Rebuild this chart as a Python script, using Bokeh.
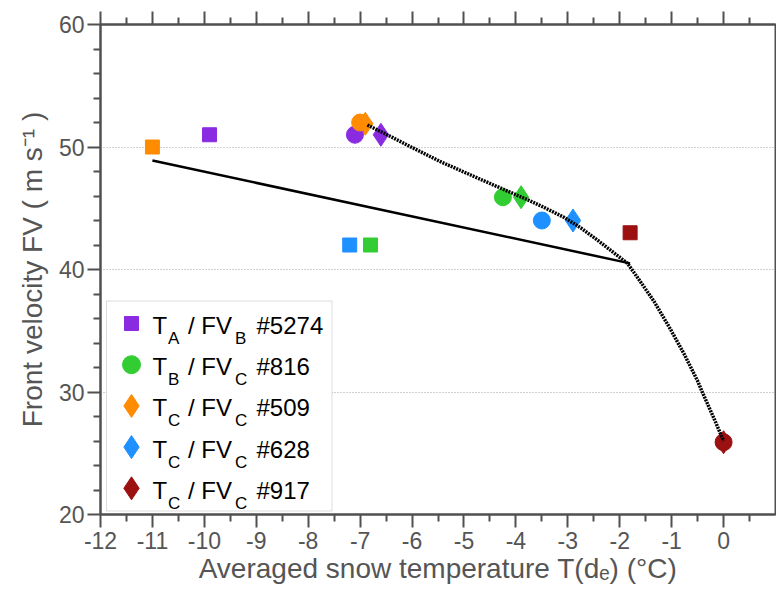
from bokeh.plotting import figure
from bokeh.models import Range1d, LinearAxis, FixedTicker, Label, BoxAnnotation, CustomJSTickFormatter, ColumnDataSource
from bokeh.embed import file_html
from bokeh.resources import INLINE

# ---------------- data ----------------
series_names = ["#5274", "#816", "#509", "#628", "#917"]
series_colors = ["#8a2be2", "#32cd32", "#ff8c00", "#1e90ff", "#9b1111"]

square_x = [-9.9, -6.8, -11.0, -7.2, -1.8]
square_y = [51.0, 42.0, 50.0, 42.0, 43.0]
circle_x = [-7.1, -4.25, -7.0, -3.5, 0.0]
circle_y = [51.0, 45.9, 52.0, 44.0, 25.9]
diamond_x = [-6.6, -3.9, -6.9, -2.9, 0.0]
diamond_y = [51.0, 45.9, 51.9, 44.0, 25.9]

fit_x = [-11.0, -1.8]
fit_y = [48.9, 40.5]

curve_x = [-6.86, -6.41, -6.09, -5.45, -4.81, -4.16, -3.78, -3.52, -3.07, -2.75, -2.43,
           -1.85, -1.60, -1.34, -1.02, -0.76, -0.50, -0.41, -0.18, 0.0]
curve_y = [51.8, 50.85, 50.15, 48.8, 47.6, 46.4, 45.7, 45.2, 44.25, 43.4, 42.4,
           40.5, 39.0, 37.4, 35.1, 33.1, 30.9, 30.0, 27.8, 26.0]

x_major = list(range(-12, 1))
x_minor = [v + 0.5 for v in range(-12, 1)]
y_major = [20, 30, 40, 50, 60]
y_minor = [v for v in range(20, 61, 2) if v % 10 != 0]
grid_y = [30, 40, 50]

leg_sub1 = ["A", "B", "C", "C", "C"]
leg_sub2 = ["B", "C", "C", "C", "C"]
leg_markers = ["square", "circle", "diamond", "diamond", "diamond"]

# ---------------- layout ----------------
X_MIN, X_MAX, Y_MIN, Y_MAX = -12, 1, 20, 60
FL, FR, FT, FB = 100, 775, 24, 514
W, H = 776, 591

def px_x(px):
    return X_MIN + (px - FL) * (X_MAX - X_MIN) / (FR - FL)

def px_y(py):
    return Y_MAX - (py - FT) * (Y_MAX - Y_MIN) / (FB - FT)

FONT = "Liberation Sans"
AX = "#505050"
TXT = "#555555"

p = figure(width=W, height=H, x_range=Range1d(X_MIN, X_MAX), y_range=Range1d(Y_MIN, Y_MAX),
           output_backend="svg", toolbar_location=None,
           min_border_left=FL, min_border_right=W - FR, min_border_top=FT, min_border_bottom=H - FB)
p.background_fill_color = "white"
p.border_fill_color = "white"
p.outline_line_color = AX
p.outline_line_width = 2

def style_axis(ax):
    ax.axis_line_color = AX
    ax.axis_line_width = 2
    ax.major_tick_line_color = AX
    ax.minor_tick_line_color = AX
    ax.major_tick_line_width = 2
    ax.minor_tick_line_width = 2
    ax.major_tick_out = 13
    ax.major_tick_in = 0
    ax.minor_tick_out = 7
    ax.minor_tick_in = 0
    ax.major_label_text_font = FONT
    ax.major_label_text_font_size = "23px"
    ax.major_label_text_color = TXT
    ax.axis_label_text_font = FONT
    ax.axis_label_text_font_size = "28px"
    ax.axis_label_text_color = TXT
    ax.axis_label_text_font_style = "normal"

xt = FixedTicker(ticks=x_major, minor_ticks=x_minor)
yt = FixedTicker(ticks=y_major, minor_ticks=y_minor)

xa = p.xaxis[0]
xa.ticker = xt
xa.major_label_overrides = {v: str(v) for v in x_major}
xa.axis_label = "Averaged snow temperature T(d\u2091) (\u00b0C)"
style_axis(xa)
xa.major_label_standoff = 4
xa.axis_label_standoff = 1

ya = p.yaxis[0]
ya.ticker = yt
ya.axis_label = "Front velocity FV ( m s\u207b\u00b9 )"
style_axis(ya)
ya.major_label_standoff = 3
ya.axis_label_standoff = 8

top = LinearAxis(ticker=FixedTicker(ticks=x_major, minor_ticks=x_minor),
                 formatter=CustomJSTickFormatter(code="return ''"))
style_axis(top)
top.major_label_standoff = 0
p.add_layout(top, "above")

p.xgrid.visible = False
p.ygrid.ticker = FixedTicker(ticks=grid_y)
p.ygrid.grid_line_color = "#a0a0a0"
p.ygrid.grid_line_dash = "1 2"
p.ygrid.grid_line_width = 1

# ---------------- data marks ----------------
p.scatter(square_x, square_y, marker="square", size=14, fill_color=series_colors, line_color=series_colors)
p.scatter(diamond_x, diamond_y, marker="diamond", size=23, fill_color=series_colors, line_color=series_colors)
p.scatter(circle_x, circle_y, marker="circle", size=17, fill_color=series_colors, line_color=series_colors)

p.line(fit_x, fit_y, line_color="black", line_width=2.5)
p.line(curve_x, curve_y, line_color="black", line_width=3.5, line_dash="2 1")

# ---------------- legend ----------------
box = BoxAnnotation(left=px_x(106), right=px_x(331.5), top=px_y(300.5), bottom=px_y(510.5),
                    fill_color="white", fill_alpha=1.0, line_color="#8a8a8a", line_width=1,
                    level="underlay")
p.add_layout(box)

row_step = 41.2
leg_sizes = {"square": 14, "circle": 18, "diamond": 23}
leg_src = ColumnDataSource(dict(
    x=[px_x(131)] * len(series_names),
    y=[px_y(323 + row_step * i) for i in range(len(series_names))],
    marker=leg_markers,
    size=[leg_sizes[m] for m in leg_markers],
    color=series_colors,
))
p.scatter(x="x", y="y", marker="marker", size="size", fill_color="color", line_color="color", source=leg_src)

for i, name in enumerate(series_names):
    base = 325 + row_step * i
    pieces = [
        (152, base, "T", "24px"),
        (167.5, base + 13, leg_sub1[i], "17px"),
        (187.5, base, "/ FV", "24px"),
        (234.5, base + 13, leg_sub2[i], "17px"),
        (256, base, name, "24px"),
    ]
    for (px, py, t, fs) in pieces:
        p.add_layout(Label(x=px_x(px), y=px_y(py), text=t, text_font=FONT, text_font_size=fs,
                           text_color="black", text_align="left", text_baseline="alphabetic"))

open("out.html", "w").write(file_html(p, INLINE))
